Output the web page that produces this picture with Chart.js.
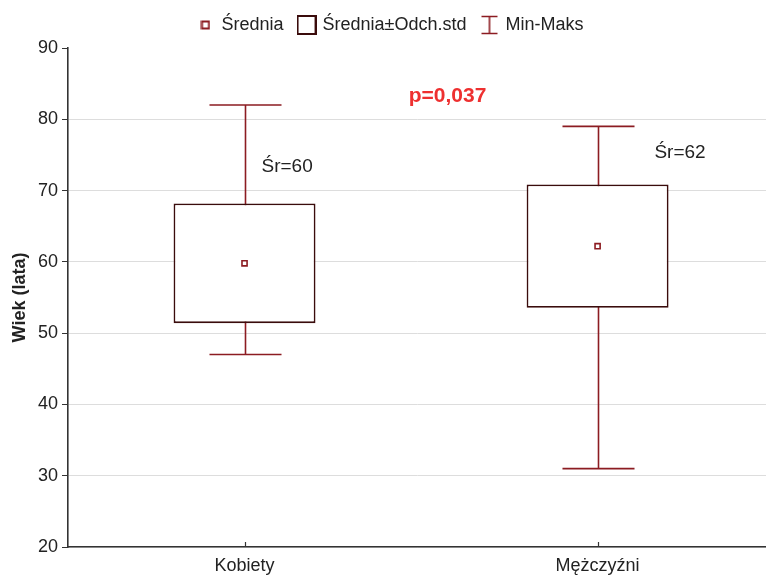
<!DOCTYPE html>
<html>
<head>
<meta charset="utf-8">
<script src="https://cdn.jsdelivr.net/npm/chart.js@4/dist/chart.umd.min.js"></script>
<style>
  html, body { margin: 0; padding: 0; background: #fff; overflow: hidden; }
  #wrap { width: 766px; height: 575px; position: relative; }
</style>
</head>
<body>
<div id="wrap"><canvas id="c"></canvas></div>
<script>
// Age by sex: mean, standard deviation and range
const categories = ['Kobiety', 'Mężczyźni'];
const meanAge = [59.8, 62.2];
const sdAge = [8.4, 8.65];
const minAge = [47, 31];
const maxAge = [82, 79];
const yTicks = [20, 30, 40, 50, 60, 70, 80, 90];
const pValueLabel = 'p=0,037';
const legendLabels = ['Średnia', 'Średnia±Odch.std', 'Min-Maks'];

const FONT = "'Liberation Sans', Arial, sans-serif";
const TEXT = '#222';
const WHISKER = '#8c1c22';
const BOX = '#3a0c0c';
const MEAN = '#8c1c22';

// legend icons
function icon(w, h, draw) {
  const c = document.createElement('canvas');
  c.width = w; c.height = h;
  draw(c.getContext('2d'));
  return c;
}
const icons = [
  icon(10, 10, g => { g.strokeStyle = MEAN; g.lineWidth = 2; g.strokeRect(1.5, 1.5, 7, 7); }),
  icon(20, 20, g => { g.strokeStyle = BOX; g.lineWidth = 2; g.strokeRect(1, 1, 18, 18); }),
  icon(18, 20, g => {
    g.strokeStyle = WHISKER; g.lineWidth = 1.6;
    g.beginPath();
    g.moveTo(1, 1.5); g.lineTo(17, 1.5);
    g.moveTo(9, 1.5); g.lineTo(9, 18.5);
    g.moveTo(1, 18.5); g.lineTo(17, 18.5);
    g.stroke();
  })
];

const boxData = categories.map((c, i) => ({ x: i, y: [meanAge[i] - sdAge[i], meanAge[i] + sdAge[i]] }));
const meanData = categories.map((c, i) => ({ x: i, y: meanAge[i] }));

// whiskers (min–max) drawn behind the boxes, inward x ticks, and text annotations
const extras = {
  id: 'extras',
  beforeDatasetsDraw(chart) {
    const { ctx, scales: { x, y } } = chart;
    const unit = x.getPixelForValue(1) - x.getPixelForValue(0);
    const cap = unit * 0.102;
    ctx.save();
    ctx.strokeStyle = WHISKER;
    ctx.lineWidth = 1.6;
    categories.forEach((c, i) => {
      const px = Math.round(x.getPixelForValue(i)) + 0.5;
      const top = y.getPixelForValue(maxAge[i]);
      const bot = y.getPixelForValue(minAge[i]);
      ctx.beginPath();
      ctx.moveTo(px, top); ctx.lineTo(px, bot);
      ctx.moveTo(px - cap, top); ctx.lineTo(px + cap, top);
      ctx.moveTo(px - cap, bot); ctx.lineTo(px + cap, bot);
      ctx.stroke();
    });
    ctx.restore();
  },
  afterDatasetsDraw(chart, args, opts) {
    const { ctx, chartArea, scales: { x, y } } = chart;
    ctx.save();
    // small tick marks pointing into the plot
    ctx.strokeStyle = '#333';
    ctx.lineWidth = 1.2;
    categories.forEach((c, i) => {
      const px = Math.round(x.getPixelForValue(i)) + 0.5;
      ctx.beginPath();
      ctx.moveTo(px, chartArea.bottom);
      ctx.lineTo(px, chartArea.bottom - 5);
      ctx.stroke();
    });
    // mean labels
    ctx.fillStyle = TEXT;
    ctx.font = '19px ' + FONT;
    ctx.textAlign = 'left';
    ctx.textBaseline = 'middle';
    opts.meanLabelAt.forEach((p, i) => {
      ctx.fillText('Śr=' + Math.round(meanAge[i]), x.getPixelForValue(p[0]), y.getPixelForValue(p[1]));
    });
    // test result
    ctx.fillStyle = '#ee3030';
    ctx.font = 'bold 21px ' + FONT;
    ctx.textAlign = 'center';
    ctx.fillText(pValueLabel, x.getPixelForValue(opts.pLabelAt[0]), y.getPixelForValue(opts.pLabelAt[1]));
    ctx.restore();
  }
};

new Chart(document.getElementById('c'), {
  type: 'bar',
  data: {
    datasets: [
      {
        type: 'scatter',
        label: legendLabels[0],
        data: meanData,
        pointStyle: 'rect',
        pointRadius: 3.6,
        pointBorderWidth: 1.6,
        pointBorderColor: MEAN,
        pointBackgroundColor: '#fff',
        order: 0
      },
      {
        type: 'bar',
        label: legendLabels[1],
        data: boxData,
        backgroundColor: '#fff',
        borderColor: BOX,
        borderWidth: 1.8,
        borderSkipped: false,
        barPercentage: 0.402,
        categoryPercentage: 1,
        order: 1
      }
    ]
  },
  options: {
    responsive: true,
    maintainAspectRatio: false,
    animation: false,
    layout: { autoPadding: false, padding: { top: 0, right: 0, left: 16, bottom: 0 } },
    plugins: {
      tooltip: { enabled: false },
      // empty spacer box between the legend and the plot area
      title: {
        display: true,
        text: '',
        weight: 500,
        font: { size: 2, lineHeight: 1 },
        padding: { top: 0, bottom: 2 }
      },
      legend: {
        display: true,
        position: 'top',
        onClick: null,
        labels: {
          usePointStyle: true,
          pointStyleWidth: 14,
          padding: 16,
          color: TEXT,
          font: { family: FONT, size: 18 },
          generateLabels: () => legendLabels.map((t, i) => ({
            text: t,
            pointStyle: icons[i],
            fillStyle: 'transparent',
            strokeStyle: 'transparent',
            lineWidth: 0,
            hidden: false,
            fontColor: TEXT
          }))
        }
      },
      extras: {
        meanLabelAt: [[0.048, 73.3], [1.161, 75.3]],
        pLabelAt: [0.575, 83.2]
      }
    },
    scales: {
      x: {
        type: 'linear',
        offset: false,
        min: -0.5,
        max: 1.477,
        afterBuildTicks: s => { s.ticks = categories.map((c, i) => ({ value: i })); },
        afterFit: s => { s.height = 28; },
        ticks: {
          color: TEXT,
          font: { family: FONT, size: 18 },
          padding: 8,
          maxRotation: 0,
          callback: v => categories[v]
        },
        grid: { display: true, offset: false, drawOnChartArea: false, drawTicks: false, color: 'transparent' },
        border: { display: true, color: '#333', width: 1.6 }
      },
      y: {
        min: 20,
        max: 90,
        afterBuildTicks: s => { s.ticks = yTicks.map(v => ({ value: v })); },
        afterFit: s => { s.width = 52; },
        ticks: {
          color: TEXT,
          font: { family: FONT, size: 18 },
          padding: 4
        },
        grid: {
          color: c => (c.tick && c.tick.value === 90) ? 'rgba(0,0,0,0)' : '#dddddd',
          lineWidth: 1,
          tickLength: 6,
          tickColor: '#333'
        },
        border: { display: true, color: '#333', width: 1.6 },
        title: {
          display: true,
          text: 'Wiek (lata)',
          color: TEXT,
          font: { family: FONT, size: 18, weight: 'bold' },
          padding: { top: -7, bottom: 0 }
        }
      }
    }
  },
  plugins: [extras]
});
</script>
</body>
</html>
